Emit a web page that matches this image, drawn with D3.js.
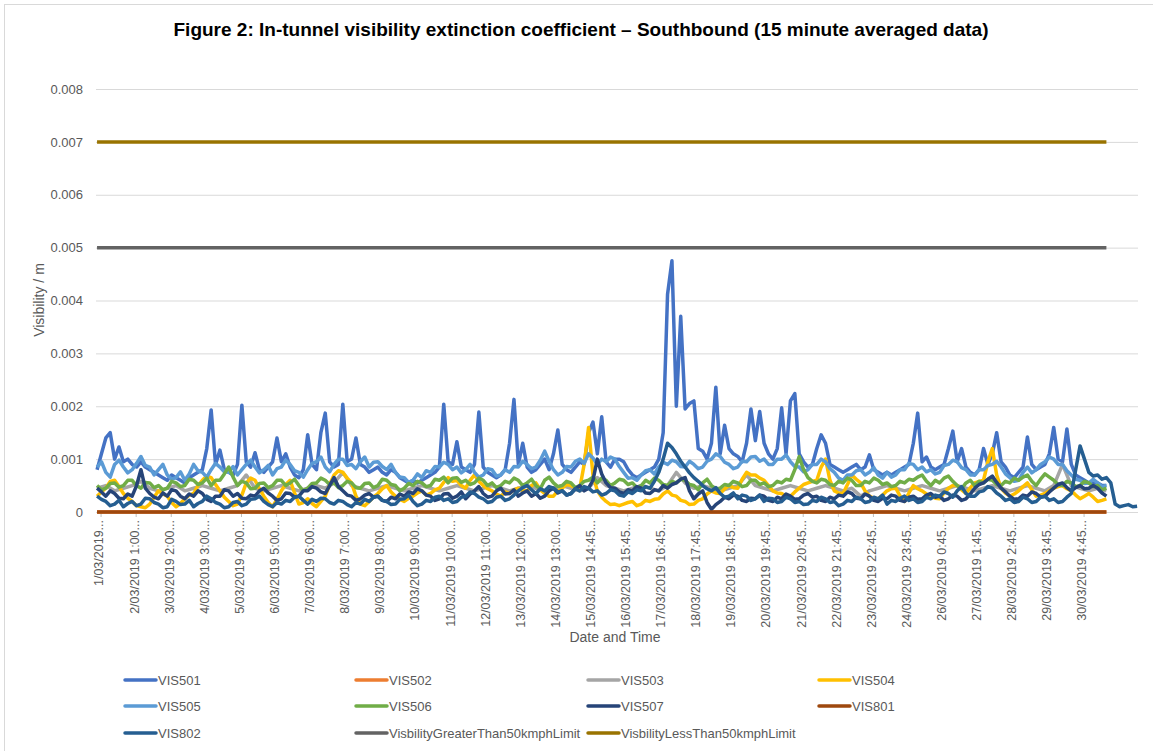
<!DOCTYPE html>
<html>
<head>
<meta charset="utf-8">
<script src="https://cdnjs.cloudflare.com/ajax/libs/d3/7.8.5/d3.min.js"></script>
<style>
    body { margin: 0; background: #fff; }
    text { font-family: "Liberation Sans", Arial, sans-serif; fill: #595959; }
</style>
</head>
<body>
<div id="chart"></div>
<script>
// x is measured in category ticks: one tick = 100 samples of 15 min data (25 h)
let tickLabels = ["1/03/2019...", "2/03/2019 1:00...", "3/03/2019 2:00...", "4/03/2019 3:00...",
    "5/03/2019 4:00...", "6/03/2019 5:00...", "7/03/2019 6:00...", "8/03/2019 7:00...",
    "9/03/2019 8:00...", "10/03/2019 9:00...", "11/03/2019 10:00...", "12/03/2019 11:00...",
    "13/03/2019 12:00...", "14/03/2019 13:00...", "15/03/2019 14:45...", "16/03/2019 15:45...",
    "17/03/2019 16:45...", "18/03/2019 17:45...", "19/03/2019 18:45...", "20/03/2019 19:45...",
    "21/03/2019 20:45...", "22/03/2019 21:45...", "23/03/2019 22:45...", "24/03/2019 23:45...",
    "26/03/2019 0:45...", "27/03/2019 1:45...", "28/03/2019 2:45...", "29/03/2019 3:45...",
    "30/03/2019 4:45..."];
let yTicks = [0, 0.001, 0.002, 0.003, 0.004, 0.005, 0.006, 0.007, 0.008];

let startT = -0.1;      // first sample, in ticks
let unit = 1e-5;        // values below are in 1e-5 /m

// sampled every 0.125 tick
let vis501 = [80,110,140,150,100,123,95,100,90,85,
    95,85,80,75,70,65,60,70,65,60,
    55,65,70,75,80,120,193,90,117,80,
    75,70,90,202,95,85,112,80,75,85,
    95,140,95,110,85,70,65,80,146,90,
    80,150,187,95,85,90,204,95,100,140,
    90,85,75,80,85,75,70,80,75,65,
    60,55,60,55,60,65,70,75,85,204,
    95,90,133,85,80,75,90,189,85,75,
    70,65,70,80,130,213,90,130,85,75,
    80,90,100,80,110,155,90,80,75,85,
    95,90,150,170,110,180,95,85,100,100,
    95,80,70,65,70,75,80,85,100,150,
    412,475,200,370,195,205,210,120,115,100,
    130,236,110,164,120,110,105,95,130,195,
    135,190,130,110,100,120,197,110,210,224,
    110,95,85,90,120,146,130,90,85,80,
    75,80,85,90,80,85,108,80,75,70,
    75,70,75,80,85,90,130,187,95,104,
    85,80,85,90,120,153,95,120,85,75,
    70,80,120,90,110,150,95,85,70,65,
    75,85,142,90,80,85,90,110,160,100,
    95,157,90,70,65,60,55,55,55,50,
    50];
let vis504 = [30,38,45,58,60,48,35,26,20,12,
    10,8,15,28,40,34,30,18,10,16,
    25,32,35,50,60,68,65,52,40,28,
    20,12,15,32,55,64,60,44,30,18,
    10,24,40,52,60,36,15,18,25,16,
    10,20,30,52,70,78,75,64,55,30,
    15,12,20,28,35,44,50,38,30,24,
    20,26,30,36,40,32,35,42,45,56,
    65,58,60,50,45,60,70,58,50,44,
    40,34,30,38,35,42,45,40,40,50,
    55,42,35,30,30,40,45,52,50,46,
    45,90,160,70,40,28,20,14,15,12,
    15,18,20,12,15,22,20,24,25,34,
    40,32,30,22,20,14,15,22,25,34,
    40,36,35,44,50,46,45,62,75,70,
    70,64,60,50,40,36,35,30,30,38,
    45,52,55,58,60,85,100,60,40,36,
    35,52,70,62,55,40,30,26,25,32,
    40,44,45,30,20,36,50,44,40,34,
    30,26,25,36,45,50,50,42,35,46,
    55,58,60,95,120,70,45,36,30,34,
    40,48,55,42,30,32,35,40,45,48,
    50,44,40,32,25,30,35,28,20,22,
    25];
let vis505 = [85,95,75,66,90,98,85,74,80,92,
    105,88,85,70,80,90,70,62,65,76,
    60,72,90,78,75,66,80,92,85,76,
    75,86,70,80,90,98,85,74,80,88,
    70,82,85,98,90,78,75,66,80,92,
    95,104,85,76,90,100,100,88,90,82,
    95,104,85,94,95,86,80,90,75,66,
    65,56,60,72,65,78,75,86,85,94,
    90,80,85,74,80,90,75,66,70,82,
    80,68,70,80,75,86,85,96,90,82,
    85,98,115,96,80,70,75,86,85,96,
    100,92,110,102,90,100,95,104,100,86,
    75,64,65,60,70,78,80,72,85,94,
    90,98,95,86,85,96,90,82,85,96,
    100,110,105,94,90,82,85,96,95,104,
    105,96,100,90,90,100,100,108,95,86,
    85,76,80,90,90,100,95,82,75,64,
    60,70,70,78,80,70,75,84,70,64,
    75,66,70,80,80,92,90,80,85,76,
    80,72,75,88,90,98,95,84,80,70,
    70,80,80,88,90,96,85,72,65,58,
    60,75,85,74,80,90,95,104,100,90,
    90,78,70,62,60,54,55,62,55,48,
    50];
let vis506 = [50,42,45,54,55,47,50,60,60,50,
    45,56,55,46,50,42,45,58,55,48,
    50,62,60,52,55,64,50,60,60,72,
    85,66,50,58,55,44,45,54,55,46,
    50,60,60,50,55,62,50,40,45,54,
    55,64,60,52,55,46,50,58,55,46,
    45,54,55,46,50,62,60,52,50,40,
    45,54,50,58,55,48,50,62,60,66,
    55,64,65,56,60,52,55,64,60,50,
    55,46,50,58,55,64,60,50,55,62,
    50,44,60,66,55,48,50,58,55,46,
    50,58,60,66,55,64,60,50,55,62,
    60,52,55,46,50,60,55,64,60,52,
    50,58,55,62,60,52,50,42,55,62,
    50,44,45,52,50,58,55,48,50,60,
    60,52,55,48,50,58,55,62,60,80,
    105,80,65,58,55,62,60,52,50,58,
    55,64,60,50,50,58,55,64,60,52,
    55,48,50,58,55,62,60,66,70,58,
    50,60,55,64,68,58,50,44,55,60,
    50,58,55,62,60,52,50,58,55,64,
    60,66,70,58,50,62,72,66,60,52,
    50,58,55,48,50,58,55,48,50,42,
    45];
let vis507 = [45,38,30,40,35,26,25,34,30,50,
    80,45,35,28,25,36,30,42,40,30,
    25,34,30,40,35,24,20,30,30,42,
    40,30,35,26,25,32,30,40,45,36,
    30,22,25,36,35,28,30,40,40,48,
    45,38,35,50,65,48,40,32,30,22,
    25,32,35,28,30,22,20,28,25,34,
    30,38,35,44,40,32,30,22,25,34,
    35,26,30,38,25,34,40,48,35,28,
    30,40,45,34,35,42,30,36,40,30,
    35,26,30,40,45,36,40,32,35,44,
    50,40,45,60,100,72,55,46,45,38,
    35,42,40,48,45,36,35,42,40,50,
    45,52,55,62,65,40,25,34,40,18,
    5,14,20,28,25,32,30,22,20,26,
    25,32,30,22,20,28,25,34,30,24,
    25,32,35,28,30,22,20,28,25,32,
    30,38,35,26,25,34,30,22,20,26,
    25,32,30,22,20,28,30,24,25,32,
    35,28,30,22,25,32,30,22,25,34,
    45,52,55,62,68,56,45,38,30,24,
    25,32,30,38,35,28,30,38,45,52,
    55,46,40,46,50,44,45,50,45,36,
    30];
let vis802 = [30,24,20,12,15,22,10,16,20,12,
    15,26,25,18,15,8,10,24,20,14,
    15,22,10,16,20,30,25,18,15,8,
    10,18,20,12,15,24,25,30,20,14,
    10,18,15,22,20,28,30,22,15,24,
    20,26,25,18,15,22,20,14,10,18,
    15,24,20,28,30,22,20,14,15,24,
    25,32,20,12,15,22,20,28,30,22,
    25,18,20,28,30,38,35,28,25,18,
    20,28,30,22,25,32,40,46,50,42,
    35,44,40,48,45,38,40,32,35,44,
    40,48,45,38,40,32,35,42,40,32,
    30,38,35,42,40,48,45,58,75,100,
    130,122,110,96,85,74,65,58,50,44,
    40,46,35,28,30,36,25,32,30,22,
    25,32,20,26,25,18,20,28,25,18,
    20,14,15,22,20,28,25,18,20,12,
    15,22,20,28,25,18,20,28,25,32,
    15,22,20,26,30,22,25,18,20,28,
    25,32,30,38,35,28,40,48,35,30,
    30,38,40,48,45,36,30,22,25,18,
    20,28,25,18,20,28,30,22,25,18,
    20,28,35,80,125,100,75,68,70,62,
    65,55,15,10,12,14,10,11];

// sampled every 0.25 tick (mostly hidden behind the others)
let vis503 = [45,50,40,45,50,58,45,40,45,50,
    40,45,50,45,40,45,50,70,45,40,
    45,50,45,40,45,50,45,55,75,50,
    45,40,45,50,45,40,45,50,45,40,
    45,50,45,40,45,50,45,40,45,50,
    45,40,45,50,45,40,45,65,50,45,
    40,45,50,45,40,50,75,55,45,50,
    45,40,45,50,70,50,45,40,45,50,
    45,40,45,50,45,40,45,30,40,45,
    50,45,40,45,50,45,40,45,50,45,
    40,45,50,45,40,45,50,45,40,50,
    90,50,45,40,45,40];

// flat series: first and last sample only
let vis502 = [0, 0];
let vis801 = [0, 0];
let limitGreater = [500, 500];
let limitLess = [700, 700];

let series = [
    {name: "VIS501", color: "#4472C4", values: vis501, step: 0.125},
    {name: "VIS502", color: "#ED7D31", values: vis502, step: 28.75},
    {name: "VIS503", color: "#A5A5A5", values: vis503, step: 0.25},
    {name: "VIS504", color: "#FFC000", values: vis504, step: 0.125},
    {name: "VIS505", color: "#5B9BD5", values: vis505, step: 0.125},
    {name: "VIS506", color: "#70AD47", values: vis506, step: 0.125},
    {name: "VIS507", color: "#264478", values: vis507, step: 0.125},
    {name: "VIS801", color: "#9E480E", values: vis801, step: 28.75},
    {name: "VIS802", color: "#255E91", values: vis802, step: 0.125},
    {name: "VisbilityGreaterThan50kmphLimit", color: "#636363", values: limitGreater, step: 28.75},
    {name: "VisbilityLessThan50kmphLimit", color: "#997300", values: limitLess, step: 28.75}
];

let width = 1153, height = 751,
    plot = {left: 96, right: 1138, top: 89, bottom: 512};

let svg = d3.select("#chart").append("svg")
    .attr("width", width)
    .attr("height", height);

svg.append("rect")
    .attr("x", 4.5).attr("y", 4.5)
    .attr("width", width + 20).attr("height", height + 20)
    .style("fill", "#fff")
    .style("stroke", "#D9D9D9");

let x = d3.scaleLinear().domain([-0.13, 29.55]).range([plot.left, plot.right]),
    y = d3.scaleLinear().domain([0, 0.008]).range([plot.bottom, plot.top]);

// title
svg.append("text")
    .attr("x", 581).attr("y", 36)
    .attr("text-anchor", "middle")
    .style("font-size", "19px")
    .style("font-weight", "bold")
    .style("fill", "#000")
    .text("Figure 2: In-tunnel visibility extinction coefficient \u2013 Southbound (15 minute averaged data)");

// gridlines + y labels
let yAxis = d3.axisLeft(y)
    .tickValues(yTicks)
    .tickSize(-(plot.right - plot.left))
    .tickPadding(13)
    .tickFormat(d => d === 0 ? "0" : d3.format(".3f")(d));

let gy = svg.append("g")
    .attr("transform", "translate(" + plot.left + ",0)")
    .call(yAxis);
gy.select(".domain").remove();
gy.selectAll("line").style("stroke", "#D9D9D9");
gy.selectAll("text").style("font-size", "13px").style("font-family", null);

// category ticks on x
let xAxis = d3.axisBottom(x)
    .tickValues(d3.range(tickLabels.length))
    .tickSize(5)
    .tickFormat((d, i) => tickLabels[i]);

let gx = svg.append("g")
    .attr("transform", "translate(0," + plot.bottom + ")")
    .call(xAxis);
gx.select(".domain").remove();
gx.selectAll("line").style("stroke", "#BFBFBF");
gx.selectAll("text")
    .attr("text-anchor", "end")
    .attr("transform", "translate(-2,2) rotate(-90)")
    .attr("x", -6).attr("y", 0).attr("dy", "0.35em")
    .style("font-size", "12.5px")
    .style("font-family", null);

// axis titles
svg.append("text")
    .attr("transform", "translate(44,300) rotate(-90)")
    .attr("text-anchor", "middle")
    .style("font-size", "14px")
    .text("Visibility / m");

svg.append("text")
    .attr("x", 615).attr("y", 642)
    .attr("text-anchor", "middle")
    .style("font-size", "14px")
    .text("Date and Time");

// series
let line = d3.line()
    .x(d => x(startT + d.i * d.step))
    .y(d => y(d.v * unit));

series.forEach(s => {
    let pts = s.values.map((v, i) => ({v: v, i: i, step: s.step}));
    svg.append("path")
        .datum(pts)
        .attr("d", line)
        .style("fill", "none")
        .style("stroke", s.color)
        .style("stroke-width", "3.5px")
        .style("stroke-linejoin", "round")
        .attr("data-legend", s.name);
});

// legend, 4 columns
let legCols = [124, 355, 587, 818],
    legRows = [680, 706, 733];

let leg = svg.selectAll(".legend")
    .data(series)
    .enter().append("g")
    .attr("class", "legend")
    .attr("transform", (d, i) => "translate(" + legCols[i % 4] + "," + legRows[Math.floor(i / 4)] + ")");

leg.append("line")
    .attr("x1", 1).attr("x2", 32)
    .style("stroke", d => d.color)
    .style("stroke-width", "3.5px")
    .style("stroke-linecap", "round");

leg.append("text")
    .attr("x", 34).attr("dy", "0.35em")
    .style("font-size", "13px")
    .text(d => d.name);
</script>
</body>
</html>
